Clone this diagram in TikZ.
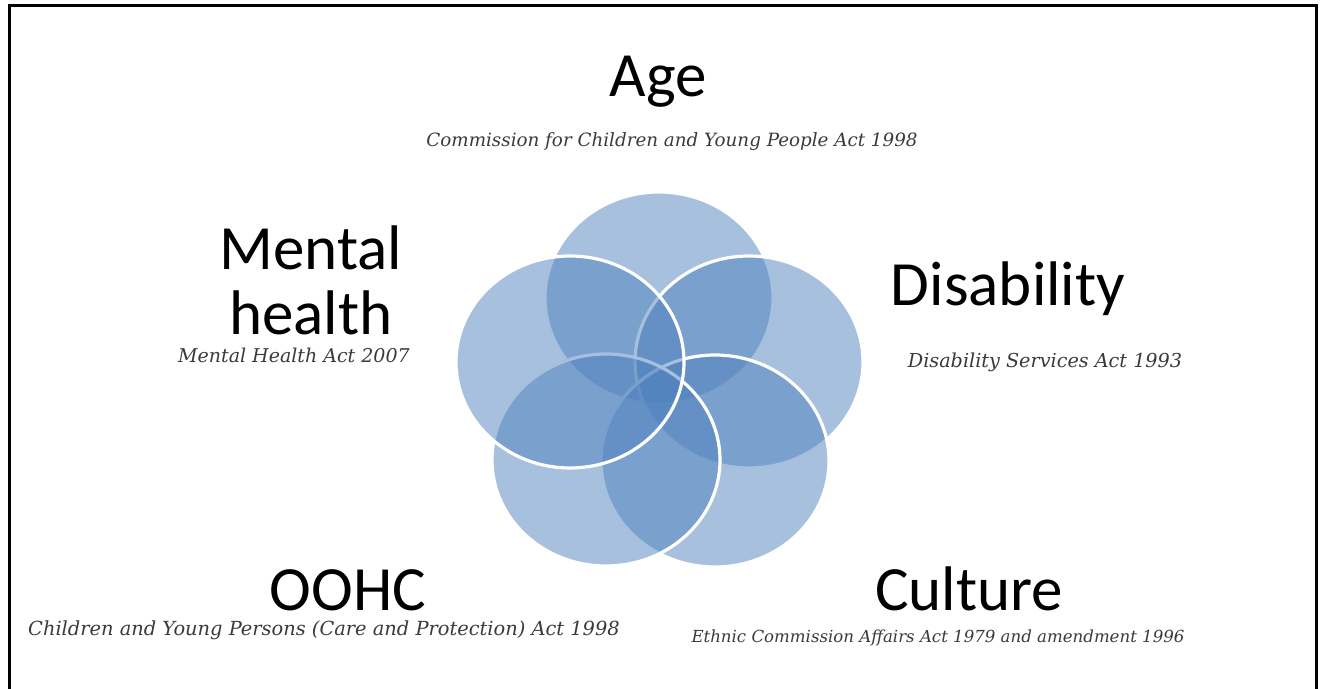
\documentclass[tikz,border=0pt]{standalone}
\usepackage{fontspec}
\setmainfont{Carlito}
\newfontfamily\actfont{DejaVu Serif}
\usetikzlibrary{shapes.geometric}
\definecolor{vennblue}{RGB}{79,129,189}
\definecolor{actgray}{RGB}{58,58,58}
\tikzset{
	petal/.style={ellipse,minimum width=114pt,minimum height=106pt,inner sep=0pt,
		fill=vennblue,fill opacity=0.5,draw=white,draw opacity=1,line width=1.6pt},
	title/.style={anchor=base,inner sep=0pt,font=\fontsize{31.5}{32.5}\selectfont},
	act/.style={anchor=base,inner sep=0pt,text=actgray,font=\actfont\itshape\fontsize{#1}{11}\selectfont},
	act/.default=9
}
\begin{document}
\begin{tikzpicture}[x=0.5pt,y=-0.5pt]
	\useasboundingbox (0,0) rectangle (1322,689);
	\clip (0,0) rectangle (1322,689);
	\draw[line width=1.5pt] (9,6) rectangle (1316,700);
	% circles, clockwise from the top
	\node[petal] (age) at (659,298) {};
	\node[petal] (dis) at (749,362) {};
	\node[petal] (cul) at (715,461) {};
	\node[petal] (oohc) at (606,460) {};
	\node[petal] (mh) at (570,362) {};
	% headings
	\node[title] (agetitle) at (658,97) {Age};
	\node[title,align=center] (mhtitle) at (311,335) {Mental\\health};
	\node[title] (distitle) at (1008,306) {Disability};
	\node[title] (oohctitle) at (348,610) {OOHC};
	\node[title] (cultitle) at (969,610) {Culture};
	% acts
	\node[act=9.15] (ageact) at (672,147) {Commission for Children and Young People Act 1998};
	\node[act=9.5] (mhact) at (294,363) {Mental Health Act 2007};
	\node[act=9.6] (disact) at (1045,368) {Disability Services Act 1993};
	\node[act=9.7] (oohcact) at (324,635) {Children and Young Persons (Care and Protection) Act 1998};
	\node[act=8.3] (culact) at (938,642) {Ethnic Commission Affairs Act 1979 and amendment 1996};
\end{tikzpicture}
\end{document}
